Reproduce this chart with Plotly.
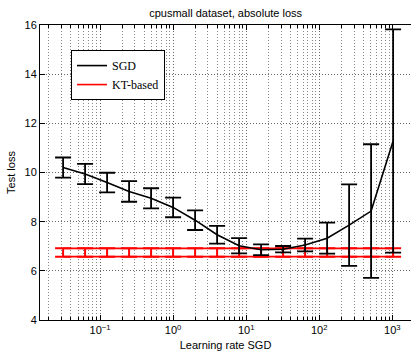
import plotly.graph_objects as go

# Data
learning_rate = [0.03125, 0.0625, 0.125, 0.25, 0.5, 1, 2, 4, 8, 16, 32, 64, 128, 256, 512, 1024]
sgd_mean = [10.20, 9.94, 9.59, 9.23, 8.95, 8.58, 8.06, 7.47, 7.02, 6.86, 6.88, 7.05, 7.33, 7.86, 8.43, 11.28]
sgd_err = [0.41, 0.41, 0.40, 0.42, 0.41, 0.40, 0.40, 0.36, 0.31, 0.22, 0.13, 0.26, 0.63, 1.66, 2.72, 4.54]
kt_mean = [6.745, 6.745, 6.745, 6.745, 6.745, 6.745, 6.745, 6.745, 6.745, 6.745, 6.745, 6.745, 6.745, 6.745, 6.745, 6.745]
kt_err = [0.17, 0.17, 0.17, 0.17, 0.17, 0.17, 0.17, 0.17, 0.17, 0.17, 0.17, 0.17, 0.17, 0.17, 0.17, 0.17]

x_tickvals = [0.1, 1, 10, 100, 1000]
x_ticktext = ["10<sup>\u22121</sup>", "10<sup>0</sup>", "10<sup>1</sup>", "10<sup>2</sup>", "10<sup>3</sup>"]
y_tickvals = [4, 6, 8, 10, 12, 14, 16]

kt_upper = [m + e for m, e in zip(kt_mean, kt_err)]
kt_lower = [m - e for m, e in zip(kt_mean, kt_err)]

fig = go.Figure()

# KT-based band edges (connecting lines)
fig.add_trace(go.Scatter(x=learning_rate, y=kt_upper, mode="lines",
                         line=dict(color="red", width=1.8), showlegend=False, hoverinfo="skip"))
fig.add_trace(go.Scatter(x=learning_rate, y=kt_lower, mode="lines",
                         line=dict(color="red", width=1.8), showlegend=False, hoverinfo="skip"))
# KT-based error bars
fig.add_trace(go.Scatter(x=learning_rate, y=kt_mean, mode="markers",
                         marker=dict(size=0.1, color="red", opacity=0),
                         error_y=dict(type="data", array=kt_err, visible=True,
                                      color="red", thickness=2, width=8),
                         showlegend=False))

# SGD
fig.add_trace(go.Scatter(x=learning_rate, y=sgd_mean, mode="lines", name="SGD",
                         line=dict(color="black", width=1.6),
                         error_y=dict(type="data", array=sgd_err, visible=True,
                                      color="black", thickness=1.8, width=8)))
# legend entry for KT-based
fig.add_trace(go.Scatter(x=[None], y=[None], mode="lines", name="KT-based",
                         line=dict(color="red", width=1.6)))

fig.update_layout(
    width=411, height=352,
    margin=dict(l=40, r=0, t=25, b=32),
    paper_bgcolor="white", plot_bgcolor="white",
    font=dict(family="Liberation Sans, Arial, sans-serif", size=11, color="black"),
    title=dict(text="cpusmall dataset, absolute loss", x=0.549, xanchor="center",
               y=0.963, yanchor="middle", font=dict(size=11)),
    showlegend=True,
    legend=dict(x=0.0836, y=0.915, xanchor="left", yanchor="top",
                bgcolor="white", bordercolor="black", borderwidth=1,
                font=dict(family="Liberation Serif, Times New Roman, serif", size=12),
                tracegroupgap=0, itemwidth=30),
)

fig.update_xaxes(
    type="log", range=[-1.821, 3.255],
    tickvals=x_tickvals, ticktext=x_ticktext,
    ticks="inside", ticklen=5, tickcolor="black", tickfont=dict(size=11),
    showline=True, linecolor="black", linewidth=1, mirror="ticks",
    showgrid=True, gridcolor="#666", griddash="1px,2px", gridwidth=1,
    minor=dict(dtick="D1", ticks="inside", ticklen=3, tickcolor="black",
               showgrid=True, gridcolor="#888", griddash="1px,2px", gridwidth=1),
    zeroline=False,
    title=dict(text="Learning rate SGD", standoff=6, font=dict(size=11)),
)
fig.update_yaxes(
    range=[4, 16], tickvals=y_tickvals,
    ticks="inside", ticklen=5, tickcolor="black",
    showline=True, linecolor="black", linewidth=1, mirror=False,
    showgrid=True, gridcolor="#666", griddash="1px,2px", gridwidth=1,
    zeroline=False,
    title=dict(text="Test loss", standoff=6, font=dict(size=11)),
)

fig.write_html("out.html", config={"displayModeBar": False},
               post_script="document.body.style.margin='0';")
